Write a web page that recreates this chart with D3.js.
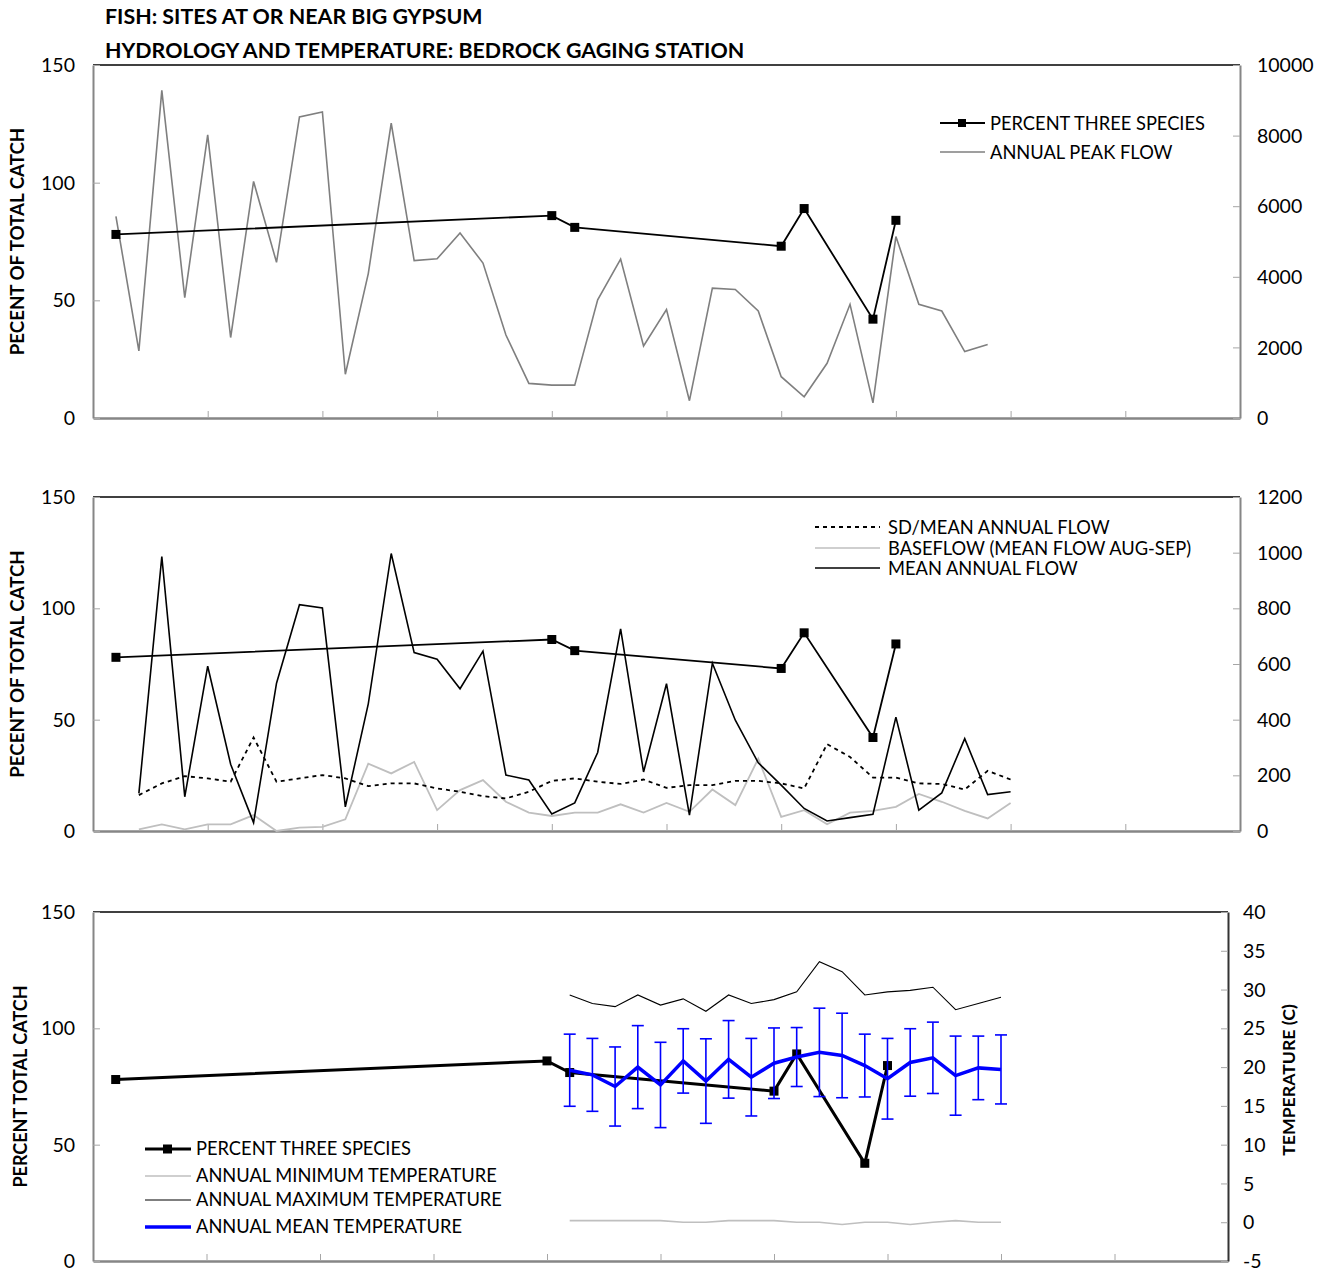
<!DOCTYPE html>
<html>
<head>
<meta charset="utf-8">
<script src="https://cdn.jsdelivr.net/npm/d3@7"></script>
<style>
  html, body { margin: 0; padding: 0; background: #fff; }
  svg { display: block; font-family: Lato, "Open Sans", sans-serif; }
</style>
</head>
<body>
<svg id="chart" width="1332" height="1273"></svg>
<script>
// ---------------- DATA ----------------
// x positions are year offsets (0..50) along the common time axis
const titleLines = ["FISH: SITES AT OR NEAR BIG GYPSUM", "HYDROLOGY AND TEMPERATURE: BEDROCK GAGING STATION"];

const percentYears = [1, 20, 21, 30, 31, 34, 35];
const percentThreeSpecies = [78, 86, 81, 73, 89, 42, 84];

const peakFlowStart = 1;
const annualPeakFlow = [5710, 1900, 9280, 3410, 8020, 2280, 6700, 4410, 8530, 8670, 1240, 4090, 8350, 4460, 4510, 5240, 4390, 2350, 980, 930, 930, 3350, 4500, 2040, 3070, 490, 3680, 3640, 3030, 1170, 600, 1550, 3220, 430, 5140, 3220, 3030, 1880, 2080];

const flowStart = 2;
const meanAnnualFlow = [135, 986, 123, 592, 240, 30, 531, 813, 801, 87, 457, 997, 641, 617, 511, 646, 201, 183, 61, 101, 282, 726, 212, 529, 57, 603, 398, 245, 165, 81, 36, 48, 60, 409, 75, 137, 332, 131, 141];
const sdMeanAnnualFlow = [129, 171, 197, 189, 177, 336, 177, 189, 201, 189, 161, 171, 171, 153, 141, 125, 117, 141, 180, 189, 177, 169, 185, 155, 165, 165, 180, 180, 171, 153, 312, 266, 192, 192, 171, 169, 149, 216, 185];
const baseflow = [6, 24, 6, 24, 24, 57, 0, 12, 15, 42, 242, 207, 248, 75, 147, 183, 105, 66, 54, 66, 66, 96, 66, 101, 69, 149, 93, 260, 51, 75, 24, 66, 72, 87, 133, 105, 72, 45, 101];

const tempStart = 21;
const annualMeanTemp = [19.6, 19.0, 17.5, 20.0, 17.7, 20.8, 18.2, 21.0, 18.7, 20.5, 21.3, 21.9, 21.5, 20.2, 18.5, 20.6, 21.2, 18.9, 19.9, 19.7];
const annualMeanTempSD = [4.65, 4.7, 5.1, 5.35, 5.5, 4.15, 5.45, 5.0, 5.0, 4.55, 3.8, 5.7, 5.45, 4.05, 5.2, 4.35, 4.6, 5.1, 4.1, 4.45];
const annualMaxTemp = [29.3, 28.2, 27.8, 29.3, 28.0, 28.8, 27.2, 29.3, 28.2, 28.7, 29.7, 33.6, 32.3, 29.3, 29.7, 29.9, 30.3, 27.4, 28.2, 29.0];
const annualMinTemp = [0.2, 0.2, 0.2, 0.2, 0.2, 0.0, 0.0, 0.2, 0.2, 0.2, 0.0, 0.0, -0.3, 0.0, 0.0, -0.3, 0.0, 0.2, 0.0, 0.0];

const leftTicks = [0, 50, 100, 150];
const peakTicks = [0, 2000, 4000, 6000, 8000, 10000];
const flowTicks = [0, 200, 400, 600, 800, 1000, 1200];
const tempTicks = [-5, 0, 5, 10, 15, 20, 25, 30, 35, 40];
const xTicks = [0, 5, 10, 15, 20, 25, 30, 35, 40, 45, 50];

const legend1 = ["PERCENT THREE SPECIES", "ANNUAL PEAK FLOW"];
const legend2 = ["SD/MEAN ANNUAL FLOW", "BASEFLOW (MEAN FLOW AUG-SEP)", "MEAN ANNUAL FLOW"];
const legend3 = ["PERCENT THREE SPECIES", "ANNUAL MINIMUM TEMPERATURE", "ANNUAL MAXIMUM TEMPERATURE", "ANNUAL MEAN TEMPERATURE"];

// ---------------- HELPERS ----------------
const svg = d3.select("#chart");
const seq = (start, arr) => arr.map((v, k) => ({ x: start + k, y: v }));
const percentData = percentYears.map((yr, k) => ({ x: yr, y: percentThreeSpecies[k] }));

const AXIS_GRAY = "#868686";
const TICK_FONT = 19.5;
const LEGEND_FONT = 18.3;
const fmt = d => String(d); // plain hyphen minus, no thousands separator

svg.append("text").attr("x", 105).attr("y", 24).attr("font-weight", "bold").attr("font-size", 21.4)
  .text(titleLines[0]);
svg.append("text").attr("x", 105).attr("y", 58).attr("font-weight", "bold").attr("font-size", 21.4)
  .text(titleLines[1]);

function panel(cfg) {
  const g = svg.append("g");
  const x = d3.scaleLinear().domain([0, 50]).range([cfg.left, cfg.right]);
  const yL = d3.scaleLinear().domain([0, 150]).range([cfg.bottom, cfg.top]);
  const yR = d3.scaleLinear().domain(cfg.rDomain).range([cfg.bottom, cfg.top]);

  // frame: top black line
  g.append("line").attr("x1", cfg.left).attr("x2", cfg.right).attr("y1", cfg.top).attr("y2", cfg.top)
    .attr("stroke", "#000").attr("stroke-width", 1.5);

  // bottom axis (ticks inside)
  const xa = g.append("g").attr("transform", `translate(0,${cfg.bottom})`)
    .call(d3.axisBottom(x).tickValues(xTicks).tickSizeInner(-7).tickSizeOuter(0).tickFormat(""));
  xa.select(".domain").attr("stroke", AXIS_GRAY).attr("stroke-width", 2.5);
  xa.selectAll(".tick line").attr("stroke", "#a6a6a6").attr("stroke-width", 1);

  // left axis
  const la = g.append("g").attr("transform", `translate(${cfg.left},0)`)
    .call(d3.axisLeft(yL).tickValues(leftTicks).tickSizeInner(-7).tickSizeOuter(0).tickPadding(18).tickFormat(fmt));
  la.select(".domain").attr("stroke", AXIS_GRAY).attr("stroke-width", 2);
  la.selectAll(".tick line").attr("stroke", "#a6a6a6").attr("stroke-width", 1);
  la.selectAll(".tick text").attr("font-size", TICK_FONT).attr("font-family", "Lato, sans-serif").attr("fill", "#000").attr("dy", "0.34em");

  // right axis
  const ra = g.append("g").attr("transform", `translate(${cfg.right},0)`)
    .call(d3.axisRight(yR).tickValues(cfg.rTicks).tickSizeInner(-7).tickSizeOuter(0)
      .tickPadding(cfg.rPad).tickFormat(fmt));
  ra.select(".domain").attr("stroke", cfg.rAxisColor || AXIS_GRAY).attr("stroke-width", 2);
  ra.selectAll(".tick line").attr("stroke", "#a6a6a6").attr("stroke-width", 1);
  ra.selectAll(".tick text").attr("font-size", TICK_FONT).attr("font-family", "Lato, sans-serif").attr("fill", "#000").attr("dy", "0.34em");

  // left title
  g.append("text").attr("transform", `translate(${cfg.ltX},${(cfg.top + cfg.bottom) / 2 + cfg.ltDy}) rotate(-90)`)
    .attr("text-anchor", "middle").attr("font-weight", "bold").attr("font-size", cfg.ltSize)
    .text(cfg.leftTitle);
  return { g, x, yL, yR };
}

function drawPercent(p, width, markerSize) {
  p.g.append("path").datum(percentData)
    .attr("fill", "none").attr("stroke", "#000").attr("stroke-width", width)
    .attr("d", d3.line().x(d => p.x(d.x)).y(d => p.yL(d.y)));
  p.g.selectAll(null).data(percentData).enter().append("rect")
    .attr("x", d => p.x(d.x) - markerSize / 2).attr("y", d => p.yL(d.y) - markerSize / 2)
    .attr("width", markerSize).attr("height", markerSize).attr("fill", "#000");
}

// ---------------- PANEL 1 ----------------
const p1 = panel({ left: 93, right: 1240, top: 65, bottom: 418, rDomain: [0, 10000], rTicks: peakTicks, rPad: 17,
  leftTitle: "PECENT OF TOTAL CATCH", ltX: 24, ltDy: 0, ltSize: 18.7 });
p1.g.append("path").datum(seq(peakFlowStart, annualPeakFlow))
  .attr("fill", "none").attr("stroke", "#7f7f7f").attr("stroke-width", 1.6)
  .attr("d", d3.line().x(d => p1.x(d.x)).y(d => p1.yR(d.y)));
drawPercent(p1, 1.8, 9);

// legend 1
{
  const lg = p1.g.append("g");
  lg.append("line").attr("x1", 940).attr("x2", 985).attr("y1", 123).attr("y2", 123).attr("stroke", "#000").attr("stroke-width", 1.8);
  lg.append("rect").attr("x", 958).attr("y", 119).attr("width", 8).attr("height", 8).attr("fill", "#000");
  lg.append("line").attr("x1", 940).attr("x2", 985).attr("y1", 152).attr("y2", 152).attr("stroke", "#7f7f7f").attr("stroke-width", 1.3);
  legend1.forEach((t, k) => lg.append("text").attr("x", 990).attr("y", 124 + k * 29).attr("dy", "0.35em")
    .attr("font-size", LEGEND_FONT).text(t));
}

// ---------------- PANEL 2 ----------------
const p2 = panel({ left: 93, right: 1240, top: 497, bottom: 831, rDomain: [0, 1200], rTicks: flowTicks, rPad: 17,
  leftTitle: "PECENT OF TOTAL CATCH", ltX: 24, ltDy: 0, ltSize: 18.7 });
const line2 = d3.line().x(d => p2.x(d.x)).y(d => p2.yR(d.y));
p2.g.append("path").datum(seq(flowStart, baseflow))
  .attr("fill", "none").attr("stroke", "#bfbfbf").attr("stroke-width", 1.8).attr("d", line2);
p2.g.append("path").datum(seq(flowStart, sdMeanAnnualFlow))
  .attr("fill", "none").attr("stroke", "#000").attr("stroke-width", 1.8).attr("stroke-dasharray", "4,4").attr("d", line2);
p2.g.append("path").datum(seq(flowStart, meanAnnualFlow))
  .attr("fill", "none").attr("stroke", "#000").attr("stroke-width", 1.6).attr("d", line2);
drawPercent(p2, 1.8, 9);

// legend 2
{
  const lg = p2.g.append("g");
  lg.append("line").attr("x1", 815).attr("x2", 880).attr("y1", 527).attr("y2", 527).attr("stroke", "#000").attr("stroke-width", 1.8).attr("stroke-dasharray", "4,4");
  lg.append("line").attr("x1", 815).attr("x2", 880).attr("y1", 548).attr("y2", 548).attr("stroke", "#bfbfbf").attr("stroke-width", 1.5);
  lg.append("line").attr("x1", 815).attr("x2", 880).attr("y1", 568).attr("y2", 568).attr("stroke", "#000").attr("stroke-width", 1.5);
  legend2.forEach((t, k) => lg.append("text").attr("x", 888).attr("y", 528 + k * 20.5).attr("dy", "0.35em")
    .attr("font-size", LEGEND_FONT).text(t));
}

// ---------------- PANEL 3 ----------------
const p3 = panel({ left: 93, right: 1228, top: 912, bottom: 1261, rDomain: [-5, 40], rTicks: tempTicks, rPad: 15,
  leftTitle: "PERCENT TOTAL CATCH", ltX: 27, ltDy: 0, ltSize: 18, rAxisColor: "#333" });
p3.g.append("text").attr("transform", `translate(1295,${1080}) rotate(-90)`)
  .attr("text-anchor", "middle").attr("font-weight", "bold").attr("font-size", 17.7).text("TEMPERATURE (C)");

const line3 = d3.line().x(d => p3.x(d.x)).y(d => p3.yR(d.y));
p3.g.append("path").datum(seq(tempStart, annualMinTemp))
  .attr("fill", "none").attr("stroke", "#bfbfbf").attr("stroke-width", 1.6).attr("d", line3);
p3.g.append("path").datum(seq(tempStart, annualMaxTemp))
  .attr("fill", "none").attr("stroke", "#000").attr("stroke-width", 1.1).attr("d", line3);

drawPercent(p3, 3, 9);

// error bars
const tempData = annualMeanTemp.map((v, k) => ({ x: tempStart + k, y: v, sd: annualMeanTempSD[k] }));
const eb = p3.g.append("g").attr("stroke", "#0000ff").attr("stroke-width", 1.6);
tempData.forEach(d => {
  const cx = p3.x(d.x), y1 = p3.yR(d.y + d.sd), y2 = p3.yR(d.y - d.sd);
  eb.append("line").attr("x1", cx).attr("x2", cx).attr("y1", y1).attr("y2", y2);
  eb.append("line").attr("x1", cx - 6).attr("x2", cx + 6).attr("y1", y1).attr("y2", y1);
  eb.append("line").attr("x1", cx - 6).attr("x2", cx + 6).attr("y1", y2).attr("y2", y2);
});
p3.g.append("path").datum(tempData)
  .attr("fill", "none").attr("stroke", "#0000ff").attr("stroke-width", 3.5).attr("stroke-linejoin", "miter").attr("d", line3);

// legend 3
{
  const lg = p3.g.append("g");
  const ys = [1149, 1176, 1200, 1227];
  lg.append("line").attr("x1", 145).attr("x2", 191).attr("y1", ys[0]).attr("y2", ys[0]).attr("stroke", "#000").attr("stroke-width", 3);
  lg.append("rect").attr("x", 163).attr("y", ys[0] - 4.5).attr("width", 9).attr("height", 9).attr("fill", "#000");
  lg.append("line").attr("x1", 145).attr("x2", 191).attr("y1", ys[1]).attr("y2", ys[1]).attr("stroke", "#bfbfbf").attr("stroke-width", 1.5);
  lg.append("line").attr("x1", 145).attr("x2", 191).attr("y1", ys[2]).attr("y2", ys[2]).attr("stroke", "#000").attr("stroke-width", 1.1);
  lg.append("line").attr("x1", 145).attr("x2", 191).attr("y1", ys[3]).attr("y2", ys[3]).attr("stroke", "#0000ff").attr("stroke-width", 3.5);
  legend3.forEach((t, k) => lg.append("text").attr("x", 196).attr("y", ys[k]).attr("dy", "0.35em")
    .attr("font-size", LEGEND_FONT).text(t));
}
</script>
</body>
</html>
